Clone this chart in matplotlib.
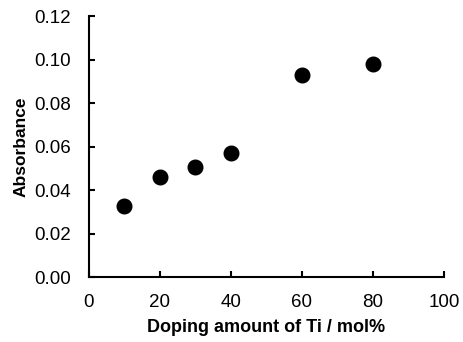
import matplotlib
matplotlib.use('Agg')
import matplotlib.pyplot as plt

# 数据
ti_doping = [10, 20, 30, 40, 60, 80]
absorbance = [0.0328, 0.0462, 0.0507, 0.0569, 0.0930, 0.0978]
x_ticks = [0, 20, 40, 60, 80, 100]
y_ticks = [0.00, 0.02, 0.04, 0.06, 0.08, 0.10, 0.12]

plt.rcParams['font.family'] = ['Liberation Sans', 'DejaVu Sans']

fig = plt.figure(figsize=(4.63, 3.42), dpi=100)
ax = fig.add_axes([0.192, 0.190, 0.767, 0.763])

ax.plot(ti_doping, absorbance, 'o', color='black', markersize=10.5, clip_on=False)

ax.set_xlim(0, 100)
ax.set_ylim(0, 0.12)
ax.set_xticks(x_ticks)
ax.set_yticks(y_ticks)
ax.set_xticklabels([str(v) for v in x_ticks])
ax.set_yticklabels([f"{v:.2f}" for v in y_ticks])

for s in ['top', 'right']:
    ax.spines[s].set_visible(False)
for s in ['left', 'bottom']:
    ax.spines[s].set_linewidth(1.5)

ax.tick_params(direction='in', length=4, width=1.5, labelsize=13.5)
ax.tick_params(axis='x', pad=12)
ax.tick_params(axis='y', pad=13)
ax.set_xlabel('Doping amount of Ti / mol%', fontsize=13, fontweight='bold', labelpad=6)
ax.set_ylabel('Absorbance', fontsize=12.5, fontweight='bold', labelpad=4)

plt.savefig('out.png', dpi=100)
